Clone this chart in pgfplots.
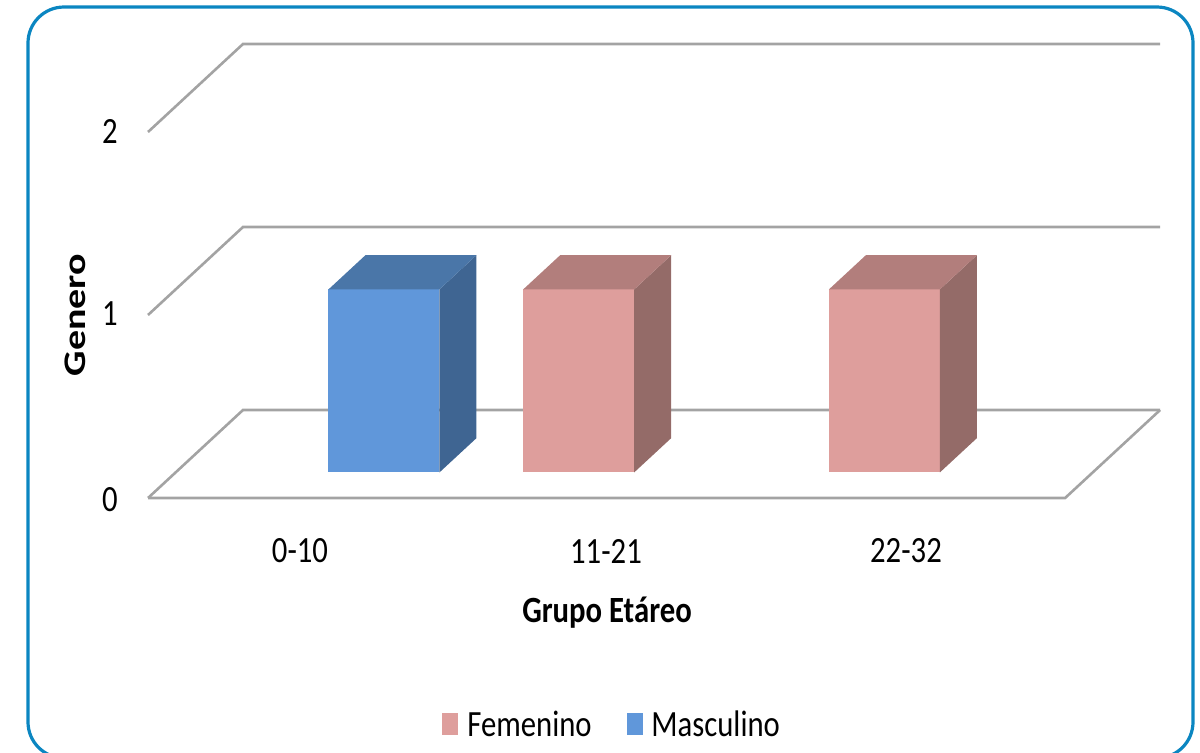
\documentclass[border=0pt]{standalone}
\usepackage{fontspec}
\setmainfont{Carlito}
\usepackage{graphicx}
\usepackage{pgfplots}
\pgfplotsset{compat=1.18}

\definecolor{mfront}{HTML}{6097DA}
\definecolor{mside}{HTML}{3F6592}
\definecolor{mtop}{HTML}{4A76A8}
\definecolor{ffront}{HTML}{DE9E9C}
\definecolor{fside}{HTML}{946B68}
\definecolor{ftop}{HTML}{B27E7C}
\definecolor{gridc}{HTML}{A3A3A3}
\definecolor{framec}{HTML}{0B86C1}

% one 3D column: left x, right x, height, front, side, top colours
\newcommand{\barbox}[6]{%
  \addplot3[draw=none, fill=#4] coordinates {(#1,0.29,0) (#2,0.29,0) (#2,0.29,#3) (#1,0.29,#3)};
  \addplot3[draw=none, fill=#5] coordinates {(#2,0.29,0) (#2,0.68,0) (#2,0.68,#3) (#2,0.29,#3)};
  \addplot3[draw=none, fill=#6] coordinates {(#1,0.29,#3) (#2,0.29,#3) (#2,0.68,#3) (#1,0.68,#3)};
}
\newcommand{\hs}[1]{\scalebox{0.83}[1]{#1}}

\begin{document}
\begin{tikzpicture}
\fontsize{18.5pt}{22pt}\selectfont
\begin{axis}[
  x={(152.85pt,0pt)}, y={(47.5pt,44pt)}, z={(0pt,91.5pt)},
  xmin=0, xmax=3, ymin=0, ymax=1, zmin=0, zmax=2,
  hide axis, clip=false,
  anchor=origin, at={(74pt,-249pt)},
]
% walls / gridlines
\addplot3[gridc, line width=1.3pt] coordinates {(0,0,0) (0,1,0) (3,1,0)};
\addplot3[gridc, line width=1.3pt] coordinates {(0,0,1) (0,1,1) (3,1,1)};
\addplot3[gridc, line width=1.3pt] coordinates {(0,0,2) (0,1,2) (3,1,2)};
\addplot3[gridc, line width=1.3pt] coordinates {(0,0,0) (3,0,0) (3,1,0)};
% data: 0-10 Masculino = 1; 11-21 Femenino = 1; 22-32 Femenino = 1
\barbox{0.5}{0.863}{1}{mfront}{mside}{mtop}
\barbox{1.137}{1.5}{1}{ffront}{fside}{ftop}
\barbox{2.137}{2.5}{1}{ffront}{fside}{ftop}
\end{axis}
\begin{scope}[x=0.5pt, y=-0.5pt]
  \node at (110,500) {\hs{0}};
  \node at (110,314) {\hs{1}};
  \node at (110,131) {\hs{2}};
  \node at (300,551) {\hs{0-10}};
  \node at (606,551) {\hs{11-21}};
  \node at (906,551) {\hs{22-32}};
  \node at (607,613) {\hs{\bfseries Grupo Etáreo}};
  \node[rotate=90] at (75,315) {\scalebox{1.08}[0.85]{\bfseries Genero}};
  \fill[ffront] (442,713) rectangle (458,735);
  \node[anchor=west, inner sep=0pt] at (467,724) {\hs{Femenino}};
  \fill[mfront] (627,713) rectangle (643,735);
  \node[anchor=west, inner sep=0pt] at (651,724) {\hs{Masculino}};
  \draw[framec, line width=1.6pt, rounded corners=18pt] (28,7) rectangle (1193,758);
\end{scope}
\pgfresetboundingbox
\path[use as bounding box] (0pt,0pt) rectangle (600pt,-376pt);
\end{tikzpicture}
\end{document}
